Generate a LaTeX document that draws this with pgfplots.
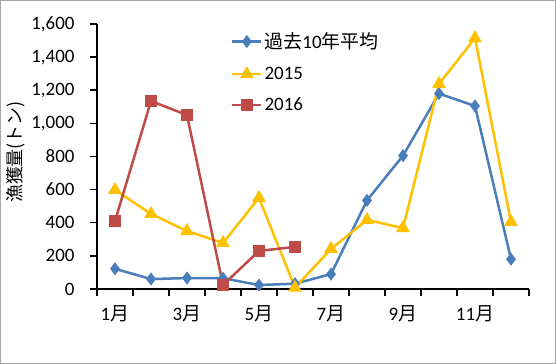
\documentclass[border=0pt]{standalone}
\usepackage{fontspec}
\setmainfont{Carlito}
\newfontfamily\jp{Noto Sans CJK JP}
\usepackage{pgfplots}
\pgfplotsset{compat=1.18}
\definecolor{cblue}{HTML}{4A7EBB}
\definecolor{cyellow}{HTML}{FFC000}
\definecolor{cred}{HTML}{BE4B48}
\begin{document}
\begin{tikzpicture}
\useasboundingbox (0,0) rectangle (556bp,364bp);
\draw[gray!70, line width=1bp] (0.5bp,0.5bp) rectangle (555.5bp,363.5bp);
\begin{axis}[
  at={(97bp,75bp)}, anchor=origin,
  scale only axis, width=432bp, height=265bp,
  xmin=0.5, xmax=12.5, ymin=0, ymax=1600,
  axis lines=left, axis line style={-, line width=1.8bp, black},
  xtick={0.5,1.5,...,12.5}, xticklabels={},
  extra x ticks={1,3,5,7,9,11},
  extra x tick labels={1{\jp 月},3{\jp 月},5{\jp 月},7{\jp 月},9{\jp 月},11{\jp 月}},
  extra x tick style={major tick length=0pt, xticklabel style={yshift=-13bp}},
  ytick={0,200,...,1600},
  yticklabel style={xshift=-12bp},
  tick align=outside, major tick length=7bp,
  tick style={line width=1.5bp, black},
  every tick label/.style={font=\fontsize{19}{21}\selectfont},
  /pgf/number format/.cd, 1000 sep={,}, assume math mode=true, /pgfplots/.cd,
  every axis y label/.style={at={(axis description cs:-0.188,0.517)}, rotate=90, anchor=center},
  ylabel={\jp\fontsize{18}{20}\selectfont 漁獲量(トン)},
  legend style={draw=none, fill=none, at={(0.31,0.975)}, anchor=north west,
    row sep=13bp, font=\fontsize{19}{21}\selectfont, inner sep=0pt},
  legend cell align=left,
  legend image code/.code={\draw[mark repeat=2,mark phase=2,#1] plot coordinates {(0bp,0bp) (14.5bp,0bp) (29bp,0bp)};},
  clip=false,
]
\addplot[color=cblue, line width=2.5bp, mark=diamond*, mark size=4.5bp, mark options={solid}] coordinates {
(1,122) (2,60) (3,66) (4,65) (5,24) (6,32) (7,90) (8,535) (9,805) (10,1180) (11,1105) (12,180)};
\addlegendentry{{\jp 過去}10{\jp 年平均}}
\addplot[color=cyellow, line width=2.5bp, mark=triangle*, mark size=5.5bp, mark options={solid}] coordinates {
(1,598) (2,453) (3,350) (4,278) (5,550) (6,8) (7,242) (8,417) (9,368) (10,1238) (11,1515) (12,405)};
\addlegendentry{2015}
\addplot[color=cred, line width=2.5bp, mark=square*, mark size=4.5bp, mark options={solid}] coordinates {
(1,410) (2,1135) (3,1050) (4,24) (5,230) (6,254)};
\addlegendentry{2016}
\end{axis}
\end{tikzpicture}
\end{document}
